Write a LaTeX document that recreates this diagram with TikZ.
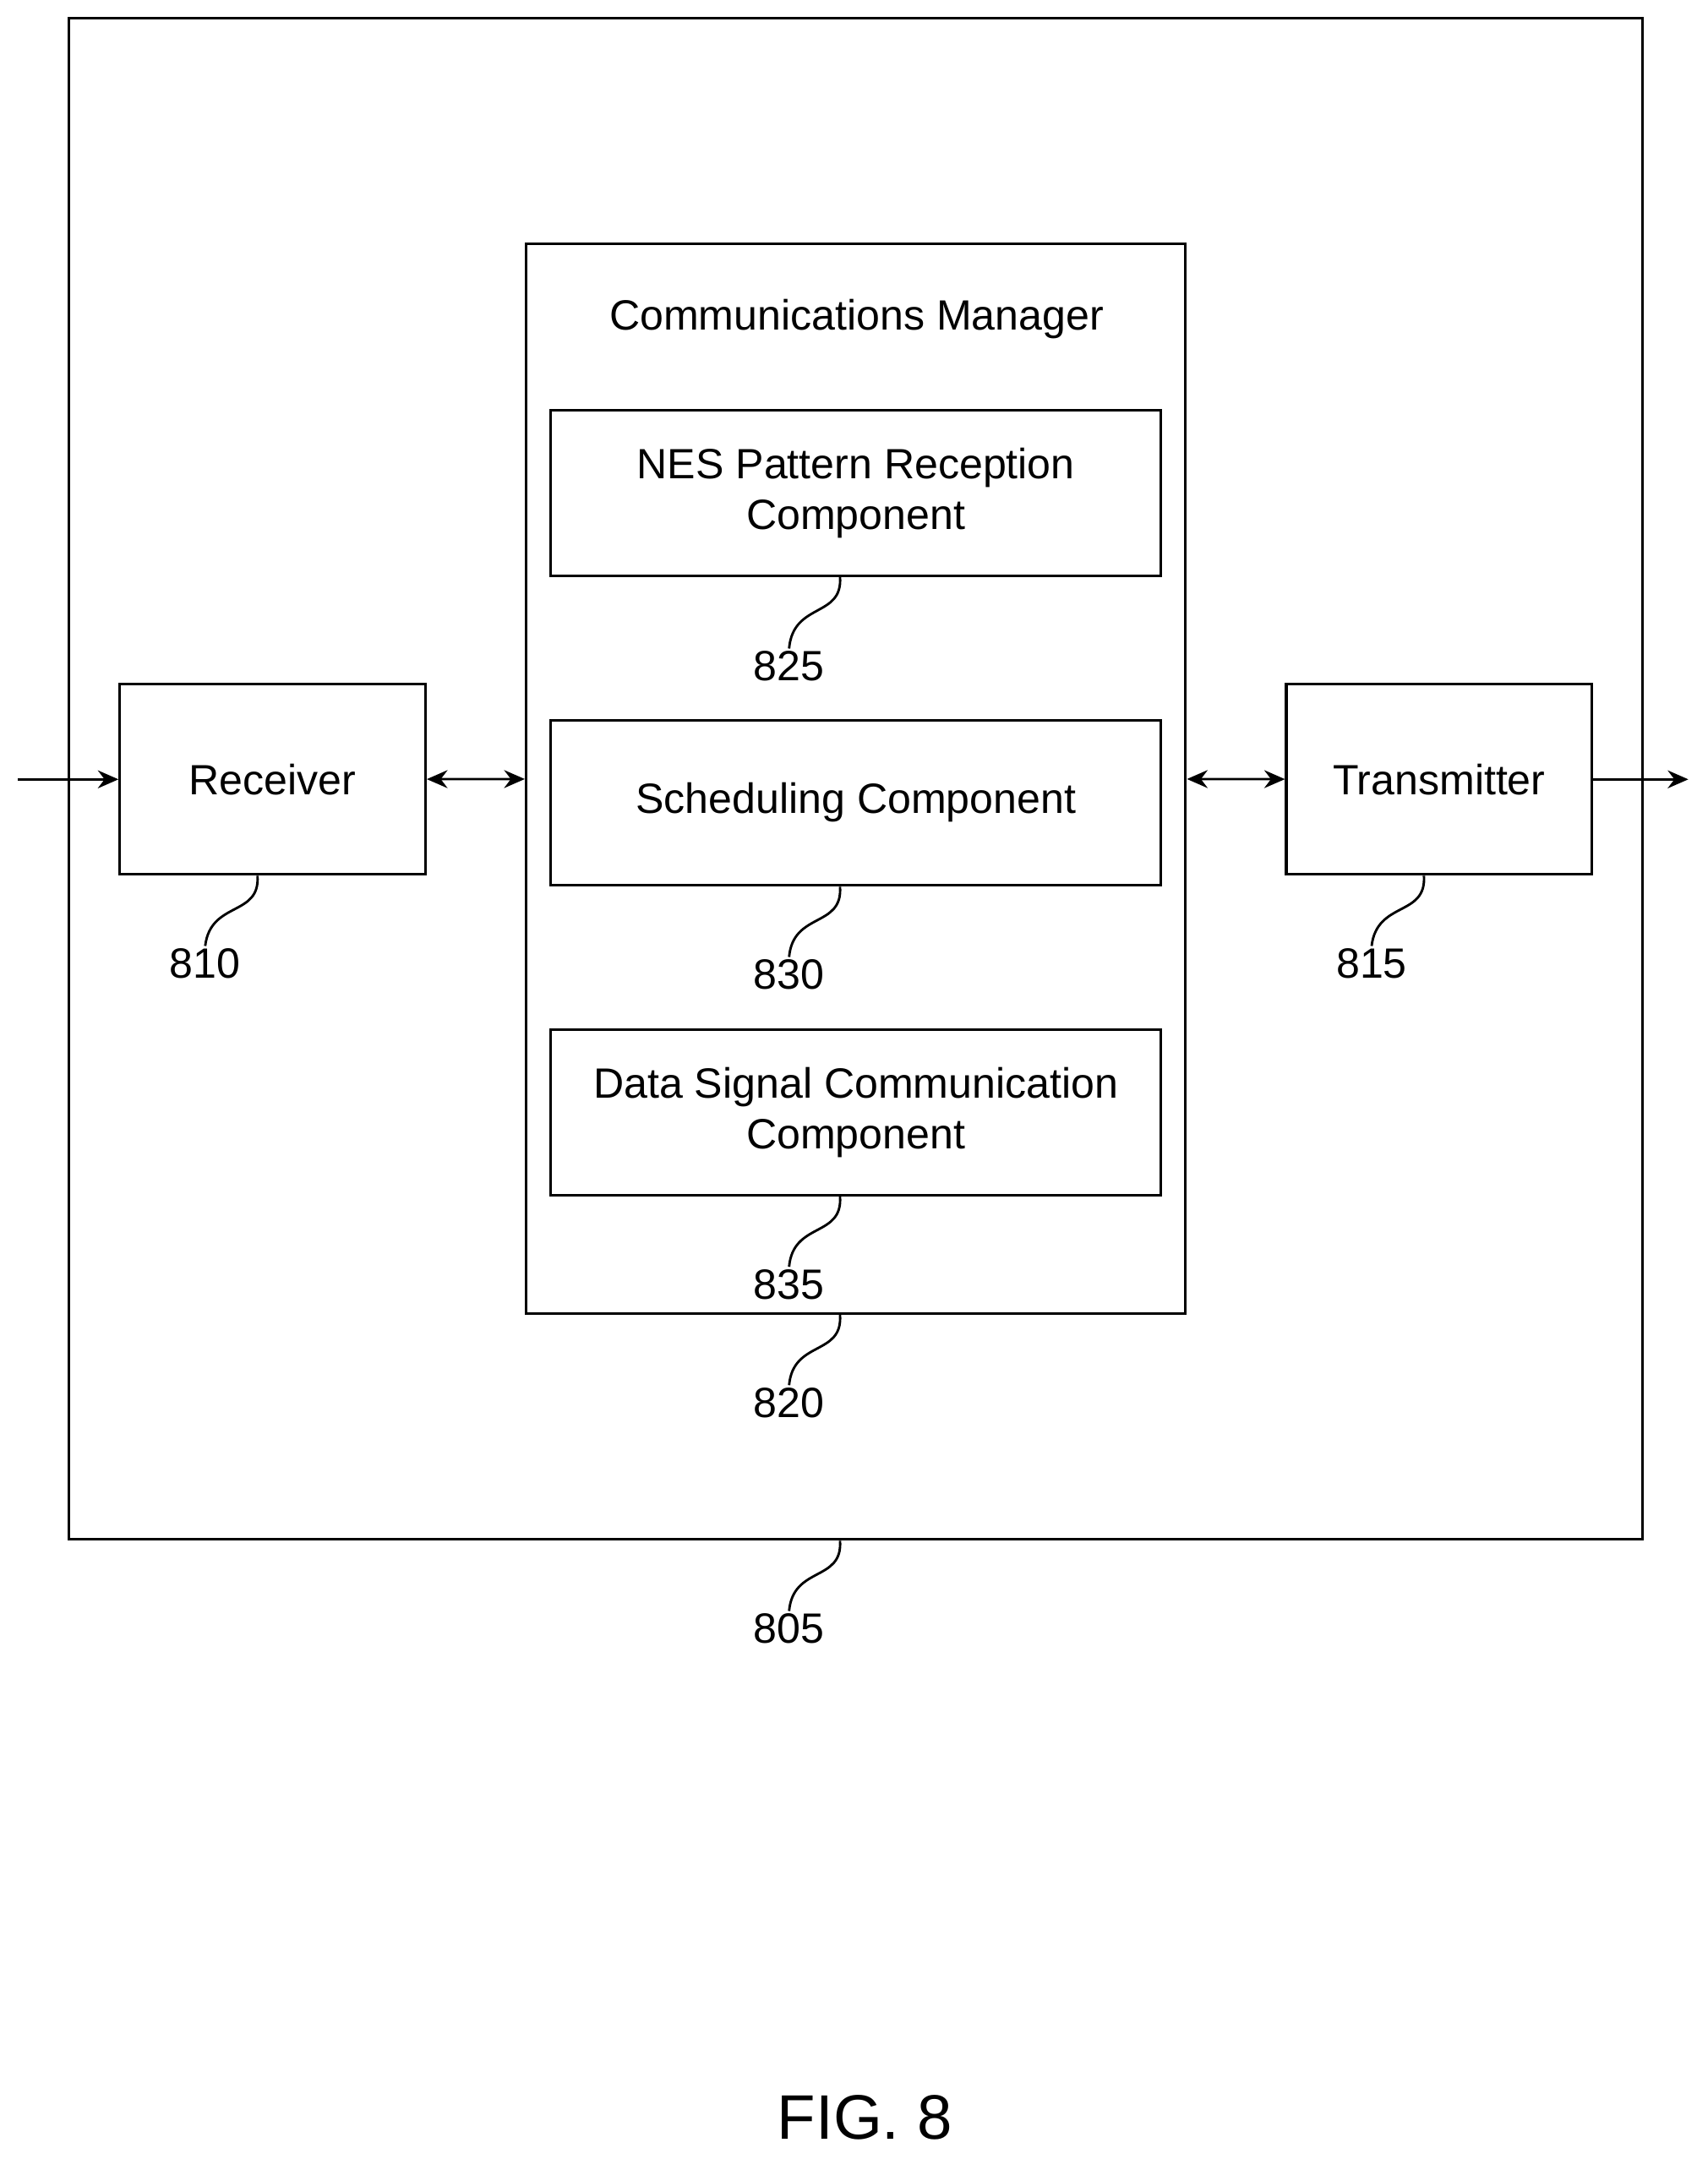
\documentclass[tikz,border=0pt]{standalone}
\usepackage{fontspec}
\setmainfont{Liberation Sans}
\usetikzlibrary{arrows.meta}
\tikzset{%
  >={Stealth[width=2.6mm,length=3mm]},
  % boxes and labels
     box/.style = {rectangle, draw=black, line width=1.1pt, inner sep=0pt,
                   align=center, font=\fontsize{17.5}{21}\selectfont},
     ref/.style = {font=\fontsize{17.5}{21}\selectfont, inner sep=1pt},
   lead/.style = {line width=1pt},
}
\begin{document}
\begin{tikzpicture}[x=0.02cm, y=-0.02cm]
  \useasboundingbox (0,0) rectangle (1240,1568);
  % outer device and blocks
  \node (device) [box, minimum width=22.86cm, minimum height=22.1cm] at (621.5,565.5) {};
  \node (manager) [box, minimum width=9.58cm, minimum height=15.54cm] at (621.5,565.5) {};
  \node (title) [ref] at (622,232) {Communications Manager};
  \node (nes) [box, minimum width=8.86cm, minimum height=2.4cm] at (621.5,358) {NES Pattern Reception\\Component};
  \node (sched) [box, minimum width=8.86cm, minimum height=2.4cm] at (621.5,583) {Scheduling Component};
  \node (data) [box, minimum width=8.86cm, minimum height=2.4cm] at (621.5,808) {Data Signal Communication\\Component};
  \node (rx) [box, minimum width=4.44cm, minimum height=2.76cm] at (198,566) {Receiver};
  \node (tx) [box, minimum width=4.44cm, minimum height=2.76cm] at (1045,566) {Transmitter};
  \coordinate (in) at (13,566);
  \coordinate (out) at (1226,566);
  % arrows
  \draw[->, lead] (in) -- (rx);
  \draw[<->, lead] (rx) -- (manager);
  \draw[<->, lead] (manager) -- (tx);
  \draw[->, lead] (tx) -- (out);
  % reference numerals
  \node (n810) [ref] at (149,700) {810};
  \node (n815) [ref] at (996,700) {815};
  \node (n825) [ref] at (573,484) {825};
  \node (n830) [ref] at (573,708) {830};
  \node (n835) [ref] at (573,933) {835};
  \node (n820) [ref] at (573,1019) {820};
  \node (n805) [ref] at (573,1183) {805};
  \draw[lead] (187,636) .. controls (189,666) and (153,654) .. (n810.north);
  \draw[lead] (1034,636) .. controls (1036,666) and (1000,654) .. (n815.north);
  \draw[lead] (610,419) .. controls (612,449) and (576,437) .. (n825.north);
  \draw[lead] (610,644) .. controls (612,674) and (576,662) .. (n830.north);
  \draw[lead] (610,869) .. controls (612,899) and (576,887) .. (n835.north);
  \draw[lead] (610,955) .. controls (612,985) and (576,973) .. (n820.north);
  \draw[lead] (610,1119) .. controls (612,1149) and (576,1137) .. (n805.north);
  \node (fig) [font=\fontsize{26}{30}\selectfont] at (628,1538) {FIG. 8};
\end{tikzpicture}
\end{document}
